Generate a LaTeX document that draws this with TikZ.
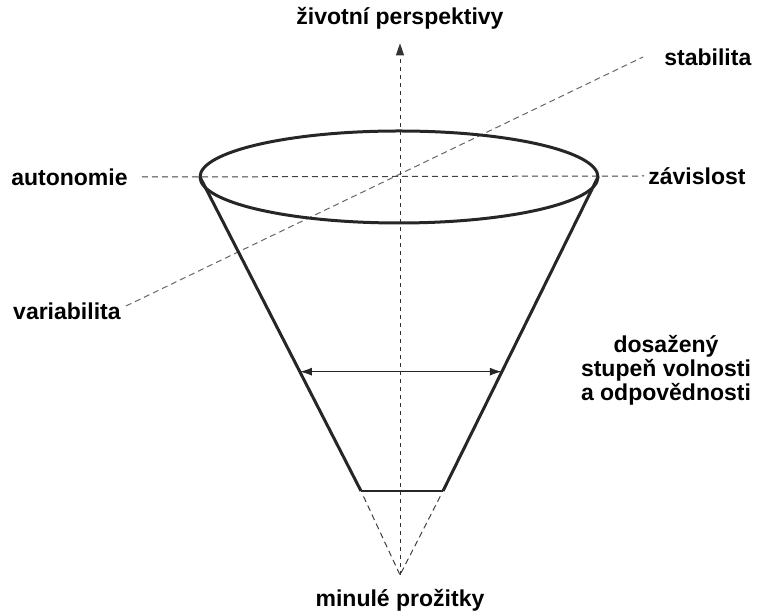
\documentclass[tikz,border=0pt]{standalone}
\usepackage{fontspec}
\setmainfont{Liberation Sans}
\usetikzlibrary{arrows.meta,positioning,calc}

\begin{document}
\begin{tikzpicture}[
  x=0.5pt,y=-0.5pt,
  label text/.style={font=\bfseries\fontsize{11.5}{12}\selectfont,inner sep=1pt,align=center},
  cone/.style={line width=1.5pt,black!85},
  axis/.style={line width=0.5pt,black!75,dash pattern=on 3pt off 2pt},
  axis arrow/.style={-{Triangle[length=6pt,width=4pt]},line width=0.5pt,black!80,dash pattern=on 2pt off 2pt},
  span/.style={{Latex[length=6pt,width=4pt]}-{Latex[length=6pt,width=4pt]},line width=0.7pt,black!85}
]
\useasboundingbox (0,0) rectangle (757,613);
% cone geometry
\coordinate (C) at (399,177);
\coordinate (L) at (200,177);
\coordinate (R) at (598,177);
\coordinate (BL) at (361,491);
\coordinate (BR) at (443,491);
\coordinate (A) at (400,575);
\coordinate (V) at (126,306);
\coordinate (S) at (643,57);
\coordinate (ML) at ($(L)!0.62!(BL)$);
\coordinate (MR) at ($(R)!0.62!(BR)$);
% labels
\node[label text] (perspekt) at (400,18) {životní perspektivy};
\node[label text] (minule) at (400,600) {minulé prožitky};
\node[label text,anchor=east] (auton) at (130,177) {autonomie};
\node[label text,anchor=west] (zavis) at (646,176) {závislost};
\node[label text,anchor=west] (stab) at (662,57) {stabilita};
\node[label text,anchor=east] (variab) at (123,311) {variabilita};
\node[label text] (dosaz) at (666,370) {dosažený\\stupeň volnosti\\a odpovědnosti};
% axes
\draw[axis] ([xshift=6pt]auton.east) -- ([xshift=-1pt]zavis.west);
\draw[axis,black!60] (V) -- (S);
\draw[axis arrow,shorten >=6pt] (A) -- (perspekt.south);
\draw[axis,shorten <=3pt] (BL) -- (A);
\draw[axis,shorten <=3pt] (BR) -- (A);
% cone
\draw[cone] (C) ellipse [x radius=99.5pt, y radius=23pt];
\draw[cone] (L) -- (BL);
\draw[cone] (R) -- (BR);
\draw[line width=0.8pt,black!85] (BL) -- (BR);
\draw[span] (ML) -- (MR);
\end{tikzpicture}
\end{document}
